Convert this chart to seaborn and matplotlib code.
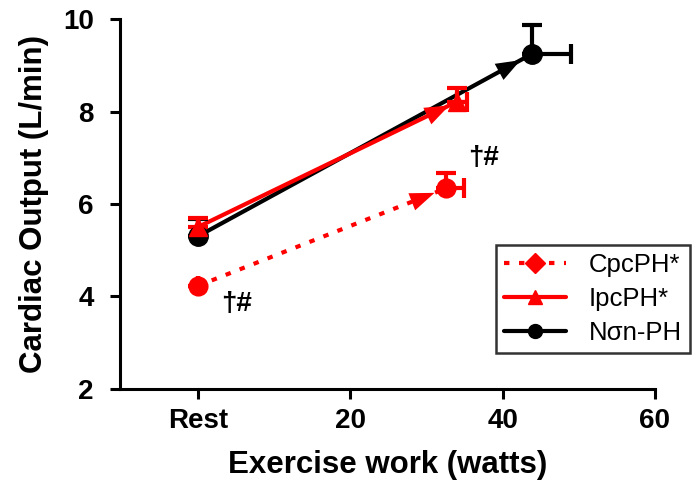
import matplotlib
matplotlib.use("Agg")
import matplotlib.pyplot as plt
import seaborn as sns
import pandas as pd
from matplotlib.lines import Line2D

# data (x = watts, 0 = Rest)
groups = ["CpcPH*", "IpcPH*", "Nσn-PH"]
cpc_x = [0, 32.6]
cpc_y = [4.23, 6.34]
cpc_yerr = [0.0, 0.33]
cpc_xerr = [0.0, 2.4]

ipc_x = [0, 34.0]
ipc_y = [5.50, 8.21]
ipc_yerr = [0.20, 0.29]
ipc_xerr = [0.0, 1.3]

non_x = [0, 43.8]
non_y = [5.30, 9.24]
non_yerr = [0.38, 0.63]
non_xerr = [0.0, 5.2]

xticks = [0, 20, 40, 60]
xticklabels = ["Rest", "20", "40", "60"]
yticks = [2, 4, 6, 8, 10]

sns.set_style("ticks")
plt.rcParams['font.family'] = ['Liberation Sans', 'DejaVu Sans']
plt.rcParams['text.color'] = 'black'
plt.rcParams['axes.labelcolor'] = 'black'
plt.rcParams['xtick.color'] = 'black'
plt.rcParams['ytick.color'] = 'black'

fig = plt.figure(figsize=(6.95, 4.8), dpi=100)
ax = fig.add_axes([0.1727, 0.1896, 0.7697, 0.7708])

red = "#ff0000"
dots = (0, (1.3, 2.3))
series = [
    (non_x, non_y, non_xerr, non_yerr, "black", "-", "o", 14, 9),
    (ipc_x, ipc_y, ipc_xerr, ipc_yerr, red, "-", "^", 13, 6),
    (cpc_x, cpc_y, cpc_xerr, cpc_yerr, red, dots, "o", 13.5, 9),
]
for xs, ys, xe, ye, col, ls, mk, msz, shr in series:
    df = pd.DataFrame({"x": xs, "y": ys})
    sns.lineplot(data=df, x="x", y="y", ax=ax, color=col, lw=3,
                 linestyle=ls, solid_capstyle="butt", dash_capstyle="butt", zorder=3)
    # arrow head only (no stem)
    ax.annotate("", xy=(xs[1], ys[1]), xytext=(xs[0], ys[0]),
                arrowprops=dict(arrowstyle="-|>,head_length=0.8,head_width=0.3",
                                mutation_scale=22, lw=0, color=col,
                                shrinkA=0, shrinkB=shr), zorder=3)
    ax.errorbar(xs, ys, yerr=[[0, 0], ye], xerr=[[0, 0], xe], fmt=mk,
                color=col, ms=msz, elinewidth=3, capsize=7.5, capthick=3,
                zorder=4, clip_on=False)

# significance marks
ax.annotate("†#", xy=(cpc_x[0], cpc_y[0]), xytext=(28, -13), textcoords="offset points",
            ha="center", va="center", fontsize=20, fontweight="bold")
ax.annotate("†#", xy=(cpc_x[1], cpc_y[1]), xytext=(27, 22), textcoords="offset points",
            ha="center", va="center", fontsize=20, fontweight="bold")

ax.set_xlim(-10.2, 60)
ax.set_ylim(2, 10)
ax.set_xticks(xticks)
ax.set_xticklabels(xticklabels)
ax.set_yticks(yticks)
ax.tick_params(width=2.2, length=7, labelsize=20, color="black", labelcolor="black")
ax.tick_params(axis="x", pad=7)
ax.tick_params(axis="y", pad=12)
for lab in ax.get_xticklabels() + ax.get_yticklabels():
    lab.set_fontweight("bold")
for s in ["left", "bottom"]:
    ax.spines[s].set_linewidth(2.2)
    ax.spines[s].set_color("black")
sns.despine(ax=ax)

ax.set_xlabel("Exercise work (watts)", fontsize=22.5, fontweight="bold", labelpad=11)
ax.set_ylabel("Cardiac Output (L/min)", fontsize=22.5, fontweight="bold", labelpad=10)

handles = [
    Line2D([], [], color=red, lw=3, linestyle=dots, marker="D", ms=10),
    Line2D([], [], color=red, lw=3, marker="^", ms=10),
    Line2D([], [], color="black", lw=3, marker="o", ms=10),
]
leg = fig.legend(handles, groups, loc="upper left", bbox_to_anchor=(0.714, 0.49),
                 fontsize=18.5, handlelength=2.4, frameon=True, fancybox=False,
                 borderpad=0.3, labelspacing=0.4, handletextpad=0.9,
                 borderaxespad=0)
leg.get_frame().set_edgecolor("black")
leg.get_frame().set_linewidth(1.8)

fig.savefig("out.png", dpi=100)
